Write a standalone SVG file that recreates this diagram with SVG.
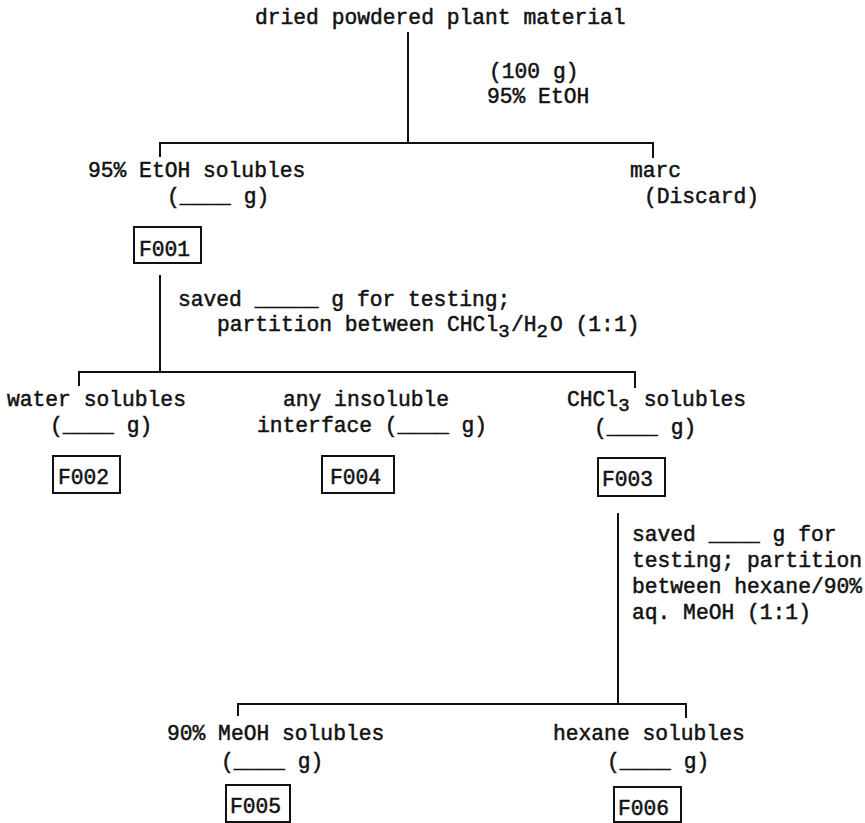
<svg xmlns="http://www.w3.org/2000/svg" width="865" height="823" viewBox="0 0 865 823">
<style>
text{font-family:"Liberation Mono","DejaVu Sans Mono",monospace;font-size:21.3px;fill:#111;stroke:#111;stroke-width:0.5px;}
.sub{font-size:19px;}
.ln{stroke:#111;stroke-width:2;fill:none;}
.box{stroke:#111;stroke-width:2;fill:none;}
</style>
<rect width="865" height="823" fill="#fff"/>
<g id="connectors">
<path class="ln" d="M408 32V143M160 157V143H653V158"/>
<path class="ln" d="M160 275V372M79 386V372H635V388"/>
<path class="ln" d="M618 513V704M238 716V704H686V718"/>
</g>
<g id="n-plant"><text x="255" y="24">dried powdered plant material</text></g>
<g id="l-step1"><text x="489" y="78">(100 g)</text><text x="487" y="103">95% EtOH</text></g>
<g id="n-etoh"><text x="88" y="177">95% EtOH solubles</text><text x="167" y="203">(____ g)</text></g>
<g id="n-marc"><text x="630" y="177">marc</text><text x="644" y="203">(Discard)</text></g>
<g id="F001"><rect class="box" x="134" y="227" width="67" height="36"/><text x="139" y="256">F001</text></g>
<g id="l-step2"><text x="178" y="306">saved _____ g for testing;</text><text x="217" y="331">partition between CHCl<tspan class="sub" dy="6">3</tspan><tspan dy="-6" x="511">/H</tspan><tspan class="sub" dy="6">2</tspan><tspan dy="-6" x="550">O (1:1)</tspan></text></g>
<g id="n-water"><text x="7" y="406">water solubles</text><text x="50" y="432">(____ g)</text></g>
<g id="n-interface"><text x="283" y="406">any insoluble</text><text x="257" y="432">interface (____ g)</text></g>
<g id="n-chcl3"><text x="567" y="406">CHCl<tspan class="sub" dy="5">3</tspan><tspan dy="-5" x="631"> solubles</tspan></text><text x="594" y="434">(____ g)</text></g>
<g id="F002"><rect class="box" x="53" y="456" width="67" height="37"/><text x="58" y="484">F002</text></g>
<g id="F004"><rect class="box" x="322" y="456" width="72" height="37"/><text x="330" y="484">F004</text></g>
<g id="F003"><rect class="box" x="598" y="458" width="67" height="38"/><text x="602" y="486">F003</text></g>
<g id="l-step3"><text x="632" y="541">saved ____ g for</text><text x="632" y="567">testing; partition</text><text x="632" y="593">between hexane/90%</text><text x="632" y="619">aq. MeOH (1:1)</text></g>
<g id="n-meoh"><text x="167" y="740">90% MeOH solubles</text><text x="221" y="768">(____ g)</text></g>
<g id="n-hexane"><text x="553" y="740">hexane solubles</text><text x="607" y="768">(____ g)</text></g>
<g id="F005"><rect class="box" x="226" y="785" width="64" height="37"/><text x="230" y="813">F005</text></g>
<g id="F006"><rect class="box" x="614" y="787" width="67" height="35"/><text x="618" y="815">F006</text></g>
</svg>
